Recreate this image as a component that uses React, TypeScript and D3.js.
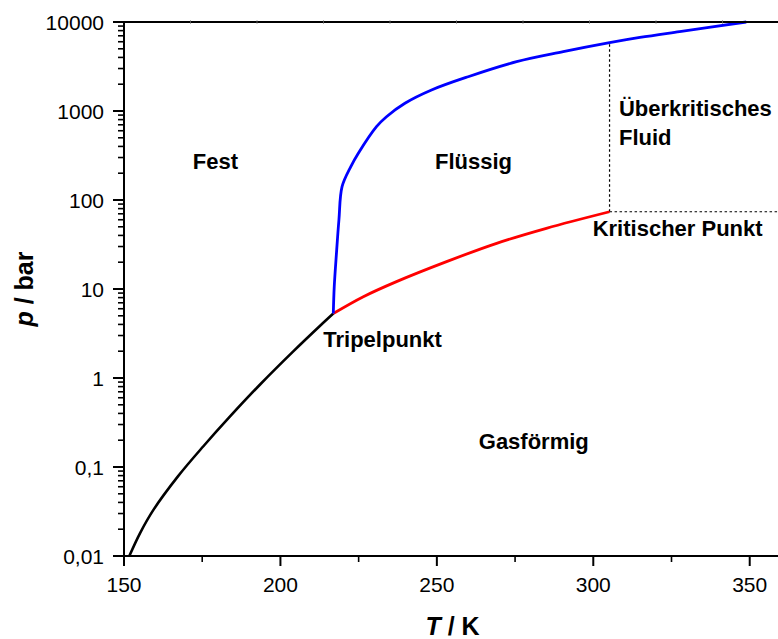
import React from "react";
import * as d3 from "d3";

// CO2 phase diagram: temperature in K, pressure in bar
const sublimationCurve: [number, number][] = [
  [151.7, 0.01],
  [155.1, 0.018],
  [159.4, 0.033],
  [167.3, 0.079],
  [175.3, 0.17],
  [183.9, 0.37],
  [193.5, 0.845],
  [204.1, 1.99],
  [212.6, 3.84],
  [216.9, 5.3],
];

const meltingCurve: [number, number][] = [
  [216.9, 5.3],
  [217.2, 10.6],
  [217.9, 25],
  [218.7, 60],
  [219.7, 141],
  [222.5, 237],
  [224.9, 335],
  [230.7, 667],
  [233.9, 863],
  [239.8, 1222],
  [248.3, 1722],
  [260.0, 2427],
  [275.5, 3580],
  [290.4, 4637],
  [305.2, 5850],
  [314.9, 6700],
  [327.6, 7800],
  [348.9, 10000],
];

const vaporCurve: [number, number][] = [
  [216.9, 5.3],
  [226.5, 8.19],
  [237.1, 12.1],
  [253.1, 20.3],
  [269.1, 32.6],
  [285.0, 48.1],
  [305.2, 73.8],
];

const criticalPoint: [number, number] = [305.2, 73.8];
const criticalMeltPressure = 5850;

const xMajorTicks = [150, 200, 250, 300, 350];
const xMinorTicks = [175, 225, 275, 325];
const yMajorTicks = [0.01, 0.1, 1, 10, 100, 1000, 10000];
const yTickLabels = ["0,01", "0,1", "1", "10", "100", "1000", "10000"];

const regionLabels = [
  { text: "Fest", T: 179.2, p: 223, anchor: "middle" },
  { text: "Flüssig", T: 261.7, p: 223, anchor: "middle" },
  { text: "Überkritisches", T: 308.2, p: 879, anchor: "start" },
  { text: "Fluid", T: 308.2, p: 415, anchor: "start" },
  { text: "Kritischer Punkt", T: 299.8, p: 39.5, anchor: "start" },
  { text: "Tripelpunkt", T: 213.7, p: 2.25, anchor: "start" },
  { text: "Gasförmig", T: 263.4, p: 0.159, anchor: "start" },
];

const W = 778;
const H = 639;
const FONT = "'Liberation Sans', Arial, Helvetica, sans-serif";

export default function App() {
  const x = d3.scaleLinear().domain([150, 360]).range([124, 781]);
  const y = d3.scaleLog().domain([0.01, 10000]).range([556, 22]);
  // faint marks along the upper frame
  const topScale = d3.scaleLinear().domain([0, 10]).range([124, 789]);
  const topTicks = d3.range(1, 10).map((v) => topScale(v));

  const yMinorTicks: number[] = [];
  for (let d = 0.01; d < 10000; d *= 10) {
    for (let m = 2; m <= 9; m++) yMinorTicks.push(d * m);
  }

  const line = d3
    .line<[number, number]>()
    .x((d) => x(d[0]))
    .y((d) => y(d[1]))
    .curve(d3.curveCatmullRom.alpha(0.5));

  const left = x(150);
  const bottom = y(0.01);
  const top = y(10000);
  const [cT, cP] = criticalPoint;

  return (
    <svg
      width={W}
      height={H}
      style={{ position: "absolute", left: 0, top: 0, background: "#fff" }}
      fontFamily={FONT}
    >
      <rect x={0} y={0} width={W} height={H} fill="#fff" />

      {/* dashed guide lines from the critical point */}
      <line
        x1={x(cT)}
        x2={x(cT)}
        y1={y(cP)}
        y2={y(criticalMeltPressure)}
        stroke="#000"
        strokeWidth={1.2}
        strokeDasharray="2.5,2.5"
      />
      <line
        x1={x(cT)}
        x2={W}
        y1={y(cP)}
        y2={y(cP)}
        stroke="#000"
        strokeWidth={1.2}
        strokeDasharray="2.5,2.5"
      />

      {/* phase boundaries */}
      <path d={line(sublimationCurve) || ""} fill="none" stroke="#000" strokeWidth={2.6} />
      <path d={line(vaporCurve) || ""} fill="none" stroke="#ff0000" strokeWidth={2.8} />
      <path d={line(meltingCurve) || ""} fill="none" stroke="#0000ff" strokeWidth={2.8} />

      {/* frame */}
      <line x1={left} x2={W} y1={top} y2={top} stroke="#000" strokeWidth={2} />
      {topTicks.map((t, i) => (
        <line key={"tt" + i} x1={t} x2={t} y1={top - 1.5} y2={top + 1.5} stroke="#555" strokeWidth={1} />
      ))}
      <line x1={left} x2={left} y1={top - 1} y2={bottom + 1} stroke="#000" strokeWidth={2} />
      <line x1={left - 1} x2={W} y1={bottom} y2={bottom} stroke="#000" strokeWidth={2} />

      {/* y axis ticks */}
      {yMajorTicks.map((v, i) => (
        <g key={"ym" + i}>
          <line x1={left - 11} x2={left} y1={y(v)} y2={y(v)} stroke="#000" strokeWidth={2} />
          <text
            x={left - 20}
            y={y(v)}
            textAnchor="end"
            dominantBaseline="central"
            fontSize={21}
            fill="#000"
          >
            {yTickLabels[i]}
          </text>
        </g>
      ))}
      {yMinorTicks.map((v, i) => (
        <line key={"yn" + i} x1={left - 6} x2={left} y1={y(v)} y2={y(v)} stroke="#000" strokeWidth={1.6} />
      ))}

      {/* x axis ticks */}
      {xMajorTicks.map((v) => (
        <g key={"xm" + v}>
          <line x1={x(v)} x2={x(v)} y1={bottom} y2={bottom + 10} stroke="#000" strokeWidth={2} />
          <text x={x(v)} y={bottom + 36} textAnchor="middle" fontSize={21} fill="#000">
            {v}
          </text>
        </g>
      ))}
      {xMinorTicks.map((v) => (
        <line key={"xn" + v} x1={x(v)} x2={x(v)} y1={bottom} y2={bottom + 6} stroke="#000" strokeWidth={1.6} />
      ))}

      {/* axis titles */}
      <text
        x={(x(150) + x(360)) / 2}
        y={635}
        textAnchor="middle"
        fontSize={25}
        fontWeight="bold"
        fill="#000"
      >
        <tspan fontStyle="italic">T</tspan>
        <tspan> / K</tspan>
      </text>
      <text
        transform={`translate(33, ${(top + bottom) / 2}) rotate(-90)`}
        textAnchor="middle"
        fontSize={25}
        fontWeight="bold"
        fill="#000"
      >
        <tspan fontStyle="italic">p</tspan>
        <tspan> / bar</tspan>
      </text>

      {/* region labels */}
      {regionLabels.map((l) => (
        <text
          key={l.text}
          x={x(l.T)}
          y={y(l.p)}
          textAnchor={l.anchor as any}
          fontSize={22}
          fontWeight="bold"
          fill="#000"
        >
          {l.text}
        </text>
      ))}
    </svg>
  );
}
